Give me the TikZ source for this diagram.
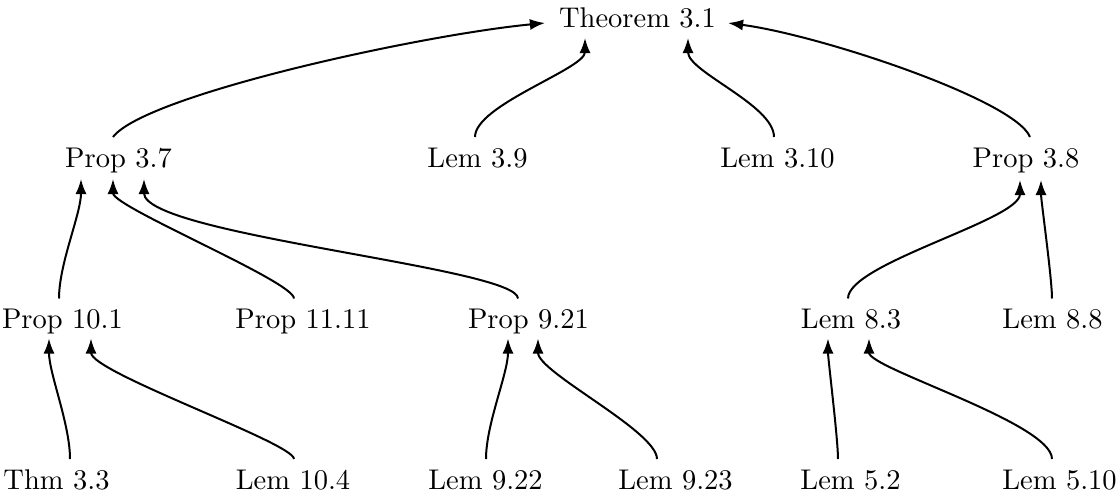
\documentclass[tikz,border=0pt]{standalone}
\usetikzlibrary{arrows.meta}
\begin{document}
\begin{tikzpicture}[x=0.3509pt,y=-0.3509pt,
  lbl/.style={anchor=base,inner sep=0pt},
  arr/.style={line width=0.7pt,-{Latex[length=5.3pt,width=3.9pt]}}]
\useasboundingbox (0,0) rectangle (1119,497);
% row 1
\node[lbl] (thm31) at (637.5,27) {Theorem 3.1};
% row 2
\node[lbl] (p37)  at (118.5,167) {Prop 3.7};
\node[lbl] (l39)  at (477.5,167) {Lem 3.9};
\node[lbl] (l310) at (777.5,167) {Lem 3.10};
\node[lbl] (p38)  at (1026,167)  {Prop 3.8};
% row 3
\node[lbl] (p101)  at (62.5,328.5)  {Prop 10.1};
\node[lbl] (p1111) at (303,328.5)   {Prop 11.11};
\node[lbl] (p921)  at (528.5,328.5) {Prop 9.21};
\node[lbl] (l83)   at (851,328.5)   {Lem 8.3};
\node[lbl] (l88)   at (1052.5,328.5){Lem 8.8};
% row 4
\node[lbl] (t33)  at (56.5,489)  {Thm 3.3};
\node[lbl] (l104) at (293,489)   {Lem 10.4};
\node[lbl] (l922) at (485.5,489) {Lem 9.22};
\node[lbl] (l923) at (675.5,489) {Lem 9.23};
\node[lbl] (l52)  at (850.5,489) {Lem 5.2};
\node[lbl] (l510) at (1059.5,489){Lem 5.10};

% row 2 -> row 1
\draw[arr] ([shift={(-5.5,-30)}]p37.base) .. controls ([shift={(26.5,-72)}]p37.base) and ([shift={(-217.5,8)}]thm31.base) .. ([shift={(-92.5,-4)}]thm31.base);
\draw[arr] ([shift={(-2.5,-30)}]l39.base) .. controls ([shift={(-2.5,-62)}]l39.base) and ([shift={(-52.5,42)}]thm31.base) .. ([shift={(-52.5,11)}]thm31.base);
\draw[arr] ([shift={(-3.5,-30)}]l310.base) .. controls ([shift={(-3.5,-62)}]l310.base) and ([shift={(50.5,45)}]thm31.base) .. ([shift={(50.5,11)}]thm31.base);
\draw[arr] ([shift={(4,-30)}]p38.base) .. controls ([shift={(-11,-67)}]p38.base) and ([shift={(182.5,8)}]thm31.base) .. ([shift={(90.5,-4)}]thm31.base);

% row 3 -> row 2
\draw[arr] ([shift={(-3.5,-30)}]p101.base) .. controls ([shift={(-3.5,-65)}]p101.base) and ([shift={(-37.5,47)}]p37.base) .. ([shift={(-37.5,12)}]p37.base);
\draw[arr] ([shift={(-9,-30)}]p1111.base) .. controls ([shift={(-9,-47)}]p1111.base) and ([shift={(-5.5,40)}]p37.base) .. ([shift={(-5.5,12)}]p37.base);
\draw[arr] ([shift={(-10.5,-30)}]p921.base) .. controls ([shift={(-10.5,-61)}]p921.base) and ([shift={(25.5,68)}]p37.base) .. ([shift={(25.5,12)}]p37.base);
\draw[arr] ([shift={(-3,-30)}]l83.base) .. controls ([shift={(-3,-65)}]l83.base) and ([shift={(-6,53)}]p38.base) .. ([shift={(-6,13)}]p38.base);
\draw[arr] ([shift={(-0.5,-30)}]l88.base) .. controls ([shift={(-0.5,-50)}]l88.base) and ([shift={(15,33)}]p38.base) .. ([shift={(15,13)}]p38.base);

% row 4 -> row 3
\draw[arr] ([shift={(13.5,-30)}]t33.base) .. controls ([shift={(13.5,-65)}]t33.base) and ([shift={(-13.5,45)}]p101.base) .. ([shift={(-13.5,10)}]p101.base);
\draw[arr] ([shift={(1,-30)}]l104.base) .. controls ([shift={(1,-46)}]l104.base) and ([shift={(28.5,44)}]p101.base) .. ([shift={(28.5,10)}]p101.base);
\draw[arr] ([shift={(0.5,-30)}]l922.base) .. controls ([shift={(0.5,-65)}]l922.base) and ([shift={(-20.5,45)}]p921.base) .. ([shift={(-20.5,10)}]p921.base);
\draw[arr] ([shift={(-18.5,-30)}]l923.base) .. controls ([shift={(-18.5,-58)}]l923.base) and ([shift={(9.5,44)}]p921.base) .. ([shift={(9.5,10)}]p921.base);
\draw[arr] ([shift={(-12.5,-30)}]l52.base) .. controls ([shift={(-12.5,-50)}]l52.base) and ([shift={(-23,30)}]l83.base) .. ([shift={(-23,10)}]l83.base);
\draw[arr] ([shift={(-7.5,-30)}]l510.base) .. controls ([shift={(-7.5,-66)}]l510.base) and ([shift={(18,40)}]l83.base) .. ([shift={(18,10)}]l83.base);
\end{tikzpicture}
\end{document}
